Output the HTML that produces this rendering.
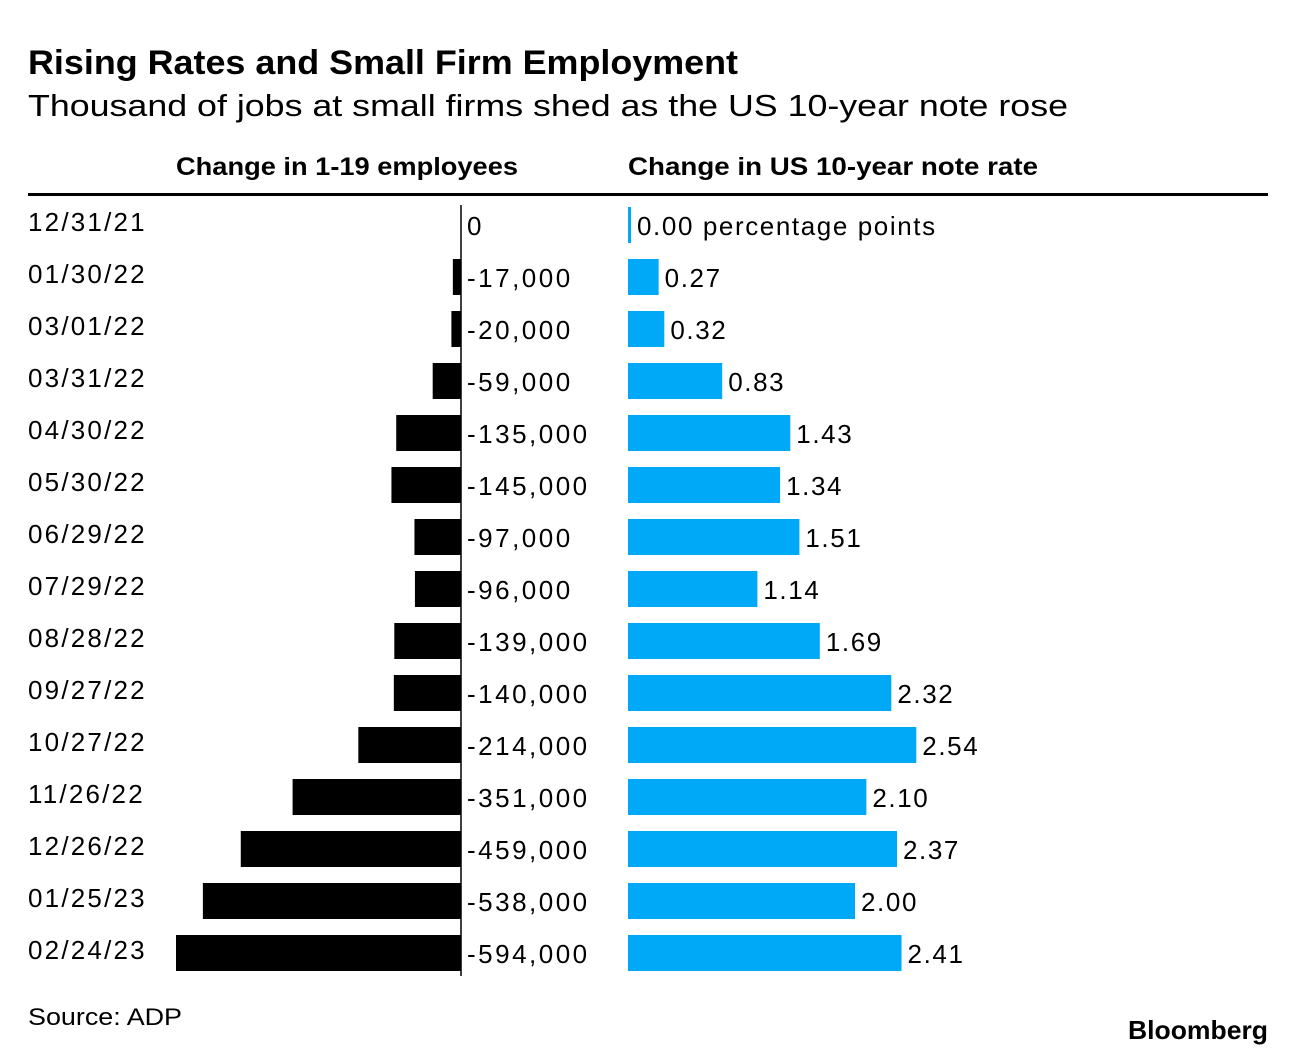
<!DOCTYPE html>
<html><head><meta charset="utf-8"><style>
body{margin:0;background:#fff;width:1296px;height:1056px;overflow:hidden;font-family:"Liberation Sans",Arial,sans-serif;color:#000}
</style></head><body>
<svg width="1296" height="1056" xmlns="http://www.w3.org/2000/svg" font-family="Liberation Sans, Arial, sans-serif">
<text x="28" y="74" font-size="34" font-weight="bold" textLength="710" lengthAdjust="spacingAndGlyphs">Rising Rates and Small Firm Employment</text>
<text x="28" y="116" font-size="31" textLength="1040" lengthAdjust="spacingAndGlyphs">Thousand of jobs at small firms shed as the US 10-year note rose</text>
<text x="176" y="175" font-size="25" font-weight="bold" textLength="342" lengthAdjust="spacingAndGlyphs">Change in 1-19 employees</text>
<text x="628" y="175" font-size="25" font-weight="bold" textLength="410" lengthAdjust="spacingAndGlyphs">Change in US 10-year note rate</text>
<rect x="28" y="193" width="1240" height="3" fill="#000"/>
<line x1="461" y1="205" x2="461" y2="976" stroke="#000" stroke-width="1.5"/>
<g id="rows"></g>
<text x="28" y="1025" font-size="24" textLength="154" lengthAdjust="spacingAndGlyphs">Source: ADP</text>
<text x="1268" y="1039" font-size="26" font-weight="bold" text-anchor="end" textLength="140" lengthAdjust="spacingAndGlyphs">Bloomberg</text>
</svg>
<script>
const dates=["12/31/21","01/30/22","03/01/22","03/31/22","04/30/22","05/30/22","06/29/22","07/29/22","08/28/22","09/27/22","10/27/22","11/26/22","12/26/22","01/25/23","02/24/23"];
const jobs=[0,-17000,-20000,-59000,-135000,-145000,-97000,-96000,-139000,-140000,-214000,-351000,-459000,-538000,-594000];
const rates=[0,0.27,0.32,0.83,1.43,1.34,1.51,1.14,1.69,2.32,2.54,2.10,2.37,2.00,2.41];
const jobLabels=["0","-17,000","-20,000","-59,000","-135,000","-145,000","-97,000","-96,000","-139,000","-140,000","-214,000","-351,000","-459,000","-538,000","-594,000"];
const rateLabels=["0.00 percentage points","0.27","0.32","0.83","1.43","1.34","1.51","1.14","1.69","2.32","2.54","2.10","2.37","2.00","2.41"];
const NS="http://www.w3.org/2000/svg";
const g=document.getElementById('rows');
const rowY=i=>225+52*i;
const xJob=v=>461+v*(285/594000);
const xRate=v=>628+v*113.5;
function mk(tag,attrs,txt){const e=document.createElementNS(NS,tag);for(const k in attrs)e.setAttribute(k,attrs[k]);if(txt!=null)e.textContent=txt;g.appendChild(e);return e;}
dates.forEach((d,i)=>{
  const y=rowY(i);
  const t=mk('text',{x:28,y:y+6,'font-size':26,'letter-spacing':2.2},d);
  
  
  const x0=xJob(jobs[i]);
  const b=mk('rect',{x:x0,y:y-18,width:461-x0,height:36,fill:'#000'});
  
  
  const jl=mk('text',{x:467,y:y+10,'font-size':26,'letter-spacing':2.5},jobLabels[i]);
  
  
  const xr=xRate(rates[i]);
  const rw=Math.max(xr-628,3);
  const rb=mk('rect',{x:628,y:y-18,width:rw,height:36,fill:'#00a8f8'});
  
  
  const rl=mk('text',{x:628+rw+6,y:y+10,'font-size':26,'letter-spacing':1.6},rateLabels[i]);
  
  
});
</script>
</body></html>
